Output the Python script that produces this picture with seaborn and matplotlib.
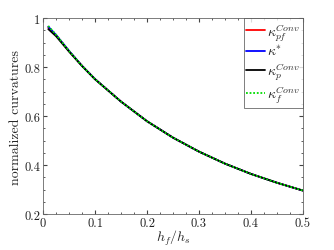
import numpy as np
import pandas as pd
import matplotlib
matplotlib.use('Agg')
import matplotlib.pyplot as plt
from matplotlib.ticker import AutoMinorLocator, MultipleLocator
import seaborn as sns

# ── datos ─────────────────────────────────────────────────────────────
h_ratio = [0.01, 0.025, 0.05, 0.075, 0.1, 0.15, 0.2, 0.25, 0.3, 0.35, 0.4, 0.45, 0.5]
k_pf    = [0.962, 0.930, 0.865, 0.805, 0.751, 0.659, 0.579, 0.512, 0.455, 0.406, 0.364, 0.328, 0.296]
k_star  = [0.965, 0.931, 0.866, 0.805, 0.751, 0.659, 0.579, 0.512, 0.455, 0.406, 0.364, 0.328, 0.296]
k_p     = [0.955, 0.926, 0.863, 0.804, 0.750, 0.659, 0.579, 0.512, 0.455, 0.406, 0.364, 0.328, 0.296]
k_f     = [0.968, 0.932, 0.866, 0.805, 0.751, 0.659, 0.579, 0.512, 0.455, 0.406, 0.364, 0.328, 0.296]

labels = [r'$\kappa_{pf}^{Conv}$', r'$\kappa^{*}$', r'$\kappa_{p}^{Conv}$', r'$\kappa_{f}^{Conv}$']
series = [k_pf, k_star, k_p, k_f]
colors = ['#ff0000', '#0000ff', '#000000', '#00dd00']

df = pd.concat([pd.DataFrame({'h': h_ratio, 'k': s, 'serie': lab}) for s, lab in zip(series, labels)])

sns.set_style('ticks')
plt.rcParams.update({
    'font.family': 'serif',
    'font.serif': ['cmr10', 'DejaVu Serif'],
    'mathtext.fontset': 'cm',
    'axes.formatter.use_mathtext': True,
    'axes.unicode_minus': False,
    'font.size': 9,
})

fig = plt.figure(figsize=(3.34, 2.51), dpi=100)
ax = fig.add_axes([0.129, 0.143, 0.778, 0.781])

sns.lineplot(data=df, x='h', y='k', hue='serie', palette=dict(zip(labels, colors)),
             style='serie', dashes={labels[0]: '', labels[1]: '', labels[2]: '', labels[3]: (1, 1)},
             lw=1.3, ax=ax)

ax.set_xlim(0, 0.5)
ax.set_ylim(0.2, 1.0)
ax.xaxis.set_major_locator(MultipleLocator(0.1))
ax.yaxis.set_major_locator(MultipleLocator(0.2))
ax.xaxis.set_minor_locator(AutoMinorLocator(4))
ax.yaxis.set_minor_locator(AutoMinorLocator(4))
ax.tick_params(which='both', direction='in', top=True, right=True, colors='#444444',
               labelcolor='#222222', labelsize=9, pad=2)
ax.tick_params(which='major', length=3)
ax.tick_params(which='minor', length=1.5)
for sp in ax.spines.values():
    sp.set_color('#666666'); sp.set_linewidth(0.6)
ax.xaxis.set_major_formatter(plt.FuncFormatter(lambda v, p: f'{v:g}'))
ax.yaxis.set_major_formatter(plt.FuncFormatter(lambda v, p: f'{v:g}'))

ax.set_xlabel(r'$h_f/h_s$', fontsize=10, labelpad=-1)
ax.set_ylabel('normalized curvatures', fontsize=10, labelpad=2)

leg = ax.legend(loc='upper right', fontsize=10, frameon=True, fancybox=False,
                handlelength=1.3, handletextpad=0.2, borderpad=0.2, labelspacing=0.12,
                borderaxespad=0.0)
leg.get_frame().set_edgecolor('#444444')
leg.get_frame().set_linewidth(0.6)

plt.savefig('out.png', dpi=100)
plt.close()
